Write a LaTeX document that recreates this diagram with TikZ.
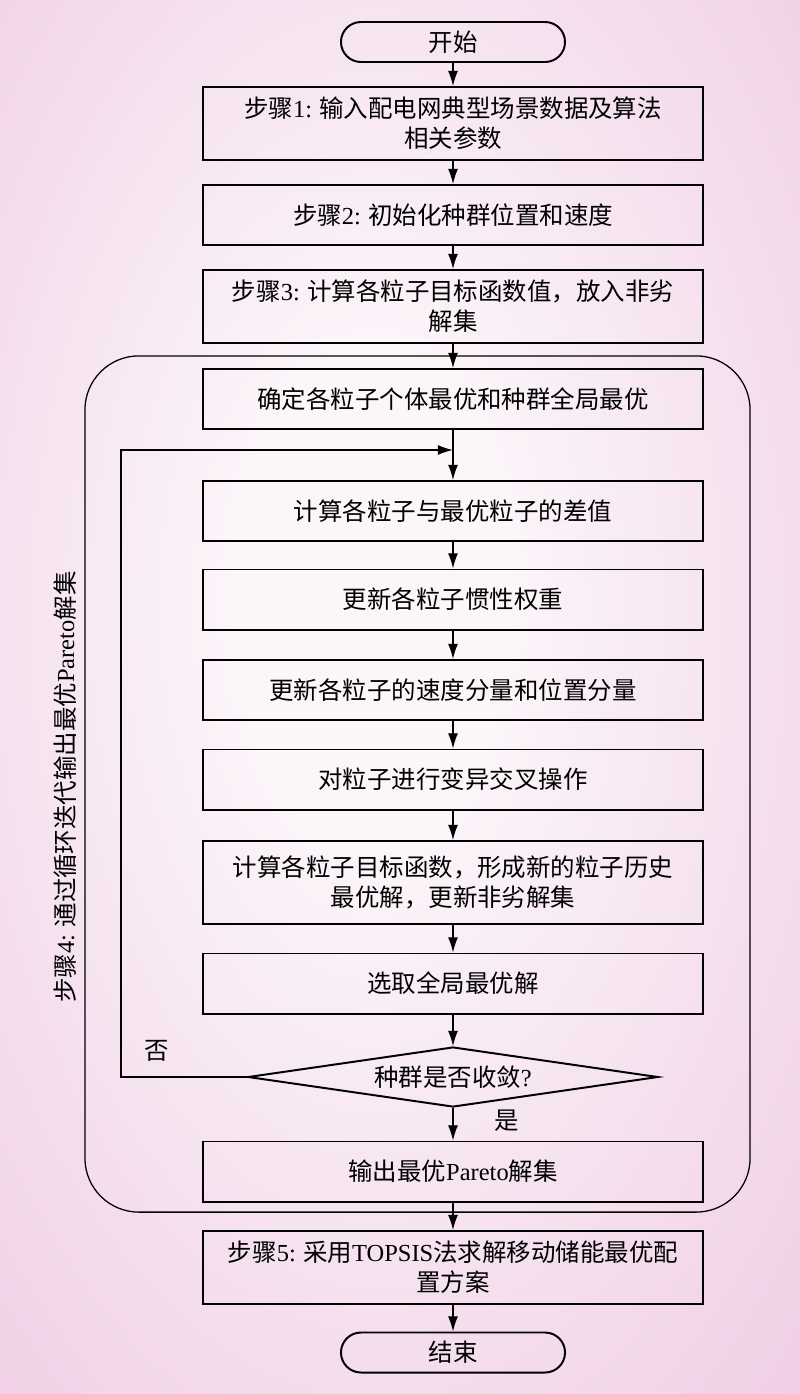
\documentclass[tikz,border=0pt]{standalone}
\usepackage{fontspec}
\setmainfont{Liberation Serif}
\newfontfamily\cjk{Noto Sans CJK SC}
\usetikzlibrary{shapes.geometric,arrows.meta}
\definecolor{bgouter}{RGB}{234,190,221}
\definecolor{bginner}{RGB}{252,246,250}
\pgfdeclareradialshading{bgglow}{\pgfpoint{-2bp}{4bp}}{color(0bp)=(bginner); color(8bp)=(bginner); color(50bp)=(bgouter); color(80bp)=(bgouter)}
\tikzset{
  stepbox/.style={draw, line width=1.4pt, minimum width=12.5cm, minimum height=1.5cm, align=center, inner sep=0pt},
  termbox/.style={draw, line width=1.4pt, rounded corners=0.5cm, minimum width=5.6cm, minimum height=1cm},
  flow/.style={-{Latex[length=3.8mm,width=2.5mm]}, line width=0.9pt},
}

\begin{document}
\begin{tikzpicture}[x=0.025cm, y=-0.025cm, font=\cjk\fontsize{17.4}{21.5}\selectfont]
\useasboundingbox (0,0) rectangle (800,1394);
\shade[shading=bgglow] (0,0) rectangle (800,1394);
\node (frame) [draw, line width=0.9pt, rounded corners=1.35cm, minimum width=16.625cm, minimum height=21.4cm] at (417.5,784) {};
\node (start) [termbox] at (453,42) {开始};
\node (s1) [stepbox, minimum height=1.825cm] at (453,123.5) {步骤{\rmfamily 1:} 输入配电网典型场景数据及算法\\相关参数};
\node (s2) [stepbox] at (453,215) {步骤{\rmfamily 2:} 初始化种群位置和速度};
\node (s3) [stepbox, minimum height=1.825cm] at (453,306.5) {步骤{\rmfamily 3:} 计算各粒子目标函数值，放入非劣\\解集};
\node (best) [stepbox] at (453,399) {确定各粒子个体最优和种群全局最优};
\node (diff) [stepbox] at (453,511) {计算各粒子与最优粒子的差值};
\node (inertia) [stepbox] at (453,599.5) {更新各粒子惯性权重};
\node (velo) [stepbox] at (453,690) {更新各粒子的速度分量和位置分量};
\node (mutate) [stepbox] at (453,779.5) {对粒子进行变异交叉操作};
\node (calc) [stepbox, minimum height=2.075cm] at (453,882.5) {计算各粒子目标函数，形成新的粒子历史\\最优解，更新非劣解集};
\node (pick) [stepbox] at (453,983.5) {选取全局最优解};
\node (conv) [draw, line width=1.4pt, shape=diamond, aspect=6.8, inner sep=0pt, minimum width=10.25cm, minimum height=1.5cm] at (453,1077) {种群是否收敛{\rmfamily ?}};
\node (out) [stepbox] at (453,1171.5) {输出最优{\rmfamily Pareto}解集};
\node (s5) [stepbox, minimum height=1.825cm] at (453,1267.5) {步骤{\rmfamily 5:} 采用{\rmfamily TOPSIS}法求解移动储能最优配\\置方案};
\node (stop) [termbox] at (453,1352.5) {结束};
\node (s4) [rotate=90] at (65,787) {步骤{\rmfamily 4:} 通过循环迭代输出最优{\rmfamily Pareto}解集};
\coordinate (lpbot) at (121,1077);
\coordinate (lptop) at (121,450);
\coordinate (lpend) at (453,450);
\draw[flow] (start) -- (s1);
\draw[flow] (s1) -- (s2);
\draw[flow] (s2) -- (s3);
\draw[flow] (s3) -- (best);
\draw[flow] (best) -- (diff);
\draw[flow] (diff) -- (inertia);
\draw[flow] (inertia) -- (velo);
\draw[flow] (velo) -- (mutate);
\draw[flow] (mutate) -- (calc);
\draw[flow] (calc) -- (pick);
\draw[flow] (pick) -- (conv);
\draw[flow] (conv) -- (out) node[pos=.4, right=0.9cm] (yes) {是};
\draw[flow] (conv.west) -- (lpbot) node[pos=.72, above=0.25cm] (no) {否} -- (lptop) -- (lpend);
\draw[flow] (out) -- (s5);
\draw[flow] (s5) -- (stop);
\end{tikzpicture}
\end{document}
